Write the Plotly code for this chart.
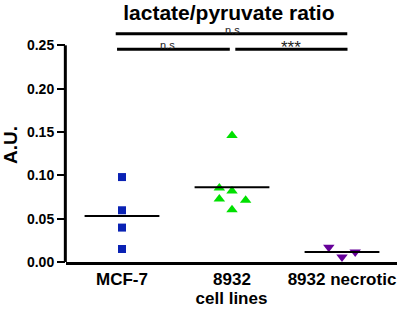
import numpy as np
import plotly.graph_objects as go

categories = ["MCF-7", "8932", "8932 necrotic"]
mcf7_values = [0.098, 0.0597, 0.0397, 0.015]
n8932_values = [0.146, 0.0854, 0.0819, 0.0727, 0.0712, 0.0604]
necrotic_values = [0.0170, 0.0058, 0.0115]
y_ticks = [0.00, 0.05, 0.10, 0.15, 0.20, 0.25]

# horizontal jitter of points within each group (layout only)
mcf7_offsets = [0, 0, 0, 0]
n8932_offsets = [0, -0.115, 0, -0.115, 0.124, 0]
necrotic_offsets = [-0.12, 0, 0.12]

colors = ["#0a22b4", "#00e000", "#660099"]
symbols = ["square", "triangle-up", "triangle-down"]
sizes = [8, 10, 10]

FONT = "Liberation Sans, Arial, sans-serif"

fig = go.Figure()
groups = [(mcf7_values, mcf7_offsets), (n8932_values, n8932_offsets), (necrotic_values, necrotic_offsets)]
for i, (vals, offs) in enumerate(groups):
    fig.add_trace(go.Scatter(
        x=[i + o for o in offs], y=vals, mode="markers",
        marker=dict(symbol=symbols[i], color=colors[i], size=sizes[i], line=dict(width=0)),
        showlegend=False, cliponaxis=False))
    m = float(np.mean(vals))
    fig.add_trace(go.Scatter(
        x=[i - 0.34, i + 0.34], y=[m, m], mode="lines",
        line=dict(color="black", width=2), showlegend=False))

# y axis line (only up to 0.25)
fig.add_shape(type="line", xref="paper", yref="y", x0=-0.002, x1=-0.002, y0=0, y1=0.25,
              line=dict(color="black", width=3))

# significance brackets
brackets = [(-0.057, 2.048, 0.2633, 1.0, "n.s", 11),
            (-0.045, 0.98, 0.2454, 0.41, "n.s", 11),
            (1.03, 2.05, 0.2454, 1.54, "***", 17)]
for x0, x1, yv, xt, txt, fs in brackets:
    fig.add_shape(type="line", xref="x", yref="y", x0=x0, x1=x1, y0=yv, y1=yv,
                  line=dict(color="black", width=3))
    fig.add_annotation(x=xt, y=yv, xref="x", yref="y", text=txt, showarrow=False,
                       yanchor="bottom", yshift=-10 if txt == "***" else -4,
                       font=dict(family=FONT, size=fs, color="#222222"))

fig.update_layout(
    width=400, height=312,
    margin=dict(l=66, r=3, t=28, b=50),
    paper_bgcolor="white", plot_bgcolor="white",
    title=dict(text="<b>lactate/pyruvate ratio</b>", x=0.492, xref="paper",
               y=1 - 13 / 312, yref="container", yanchor="middle", xanchor="center",
               font=dict(family=FONT, size=21, color="black")),
    xaxis=dict(range=[-0.509, 2.5], tickvals=[0, 1, 2], ticktext=categories,
               showgrid=False, zeroline=False, showline=True, linecolor="black",
               linewidth=3, ticks="", automargin=False,
               tickfont=dict(family=FONT, size=17, color="black", weight="bold"),
               title=dict(text="cell lines", standoff=0,
                          font=dict(family=FONT, size=17, color="black", weight="bold"))),
    yaxis=dict(range=[0, 0.27], tickvals=y_ticks, ticktext=[f"{v:.2f}" for v in y_ticks],
               showgrid=False, zeroline=False, showline=False, automargin=False,
               ticks="outside", ticklen=8, tickwidth=2, tickcolor="black",
               tickfont=dict(family=FONT, size=14, color="black", weight="bold"),
               title=dict(text="A.U.", standoff=6,
                          font=dict(family=FONT, size=19, color="black", weight="bold"))),
)

fig.write_html("out.html", config={"displayModeBar": False},
               post_script="document.body.style.margin='0';document.body.style.overflow='hidden';")
